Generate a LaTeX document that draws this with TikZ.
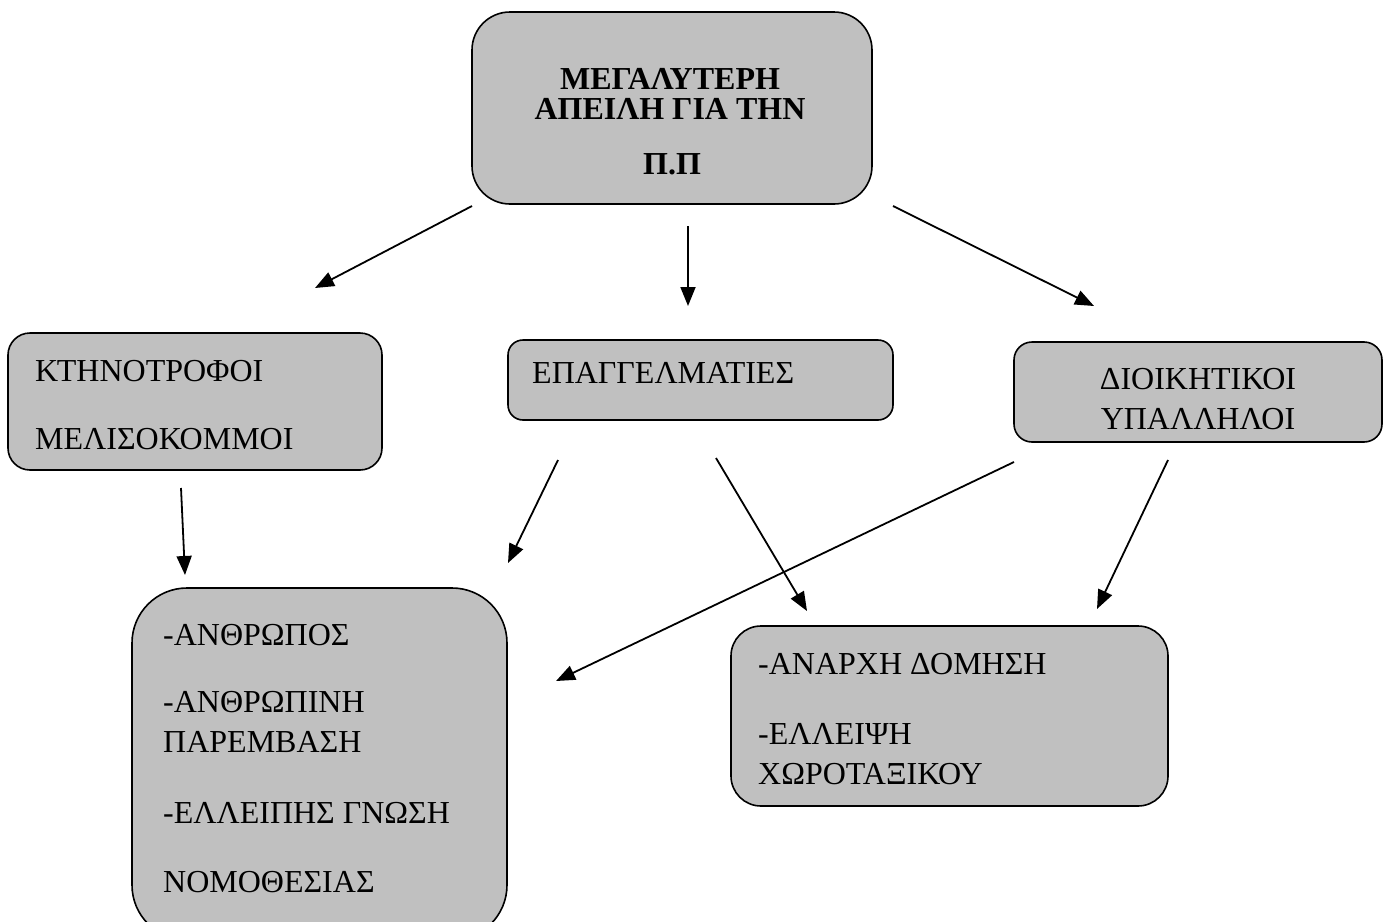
\documentclass[tikz,border=0pt]{standalone}
\usepackage{fontspec}
\setmainfont{Liberation Serif}
\usetikzlibrary{arrows.meta}
\definecolor{boxgray}{RGB}{192,192,192}
\begin{document}
\begin{tikzpicture}[x=1pt,y=-1pt,
  box/.style={draw=black, line width=1.6pt, fill=boxgray, inner sep=0pt},
  lbl/.style={anchor=base west, inner sep=0pt, font=\fontsize{32}{36}\selectfont},
  clbl/.style={anchor=base, inner sep=0pt, font=\fontsize{32}{36}\selectfont},
  hlbl/.style={anchor=base, inner sep=0pt, font=\fontsize{32}{36}\selectfont\bfseries},
  arr/.style={line width=1.8pt, -{Triangle[length=19pt,width=15pt]}}]
\useasboundingbox (0,0) rectangle (1384,921);

% boxes
\node[box, minimum width=400, minimum height=192, rounded corners=38] (top) at (672,108) {};
\node[box, minimum width=374, minimum height=137, rounded corners=22] (kt) at (195,401.5) {};
\node[box, minimum width=385, minimum height=80, rounded corners=15] (ep) at (700.5,380) {};
\node[box, minimum width=368, minimum height=100, rounded corners=18] (di) at (1198,392) {};
\node[box, minimum width=375, minimum height=352, rounded corners=55] (bl) at (319.5,764) {};
\node[box, minimum width=437, minimum height=180, rounded corners=30] (br) at (949.5,716) {};

% labels
\node[hlbl] (t1) at (670,89) {ΜΕΓΑΛΥΤΕΡΗ};
\node[hlbl] (t2) at (670,119) {ΑΠΕΙΛΗ ΓΙΑ ΤΗΝ};
\node[hlbl] (t3) at (672,174) {Π.Π};

\node[lbl] (k1) at (35,381) {ΚΤΗΝΟΤΡΟΦΟΙ};
\node[lbl] (k2) at (35,449) {ΜΕΛΙΣΟΚΟΜΜΟΙ};

\node[lbl] (e1) at (532,383) {ΕΠΑΓΓΕΛΜΑΤΙΕΣ};

\node[clbl] (d1) at (1198,389) {ΔΙΟΙΚΗΤΙΚΟΙ};
\node[clbl] (d2) at (1198,429) {ΥΠΑΛΛΗΛΟΙ};

\node[lbl] (b1) at (163,645) {-ΑΝΘΡΩΠΟΣ};
\node[lbl] (b2) at (163,712) {-ΑΝΘΡΩΠΙΝΗ};
\node[lbl] (b3) at (163,752) {ΠΑΡΕΜΒΑΣΗ};
\node[lbl] (b4) at (163,823) {-ΕΛΛΕΙΠΗΣ ΓΝΩΣΗ};
\node[lbl] (b5) at (163,892) {ΝΟΜΟΘΕΣΙΑΣ};

\node[lbl] (r1) at (758,674) {-ΑΝΑΡΧΗ ΔΟΜΗΣΗ};
\node[lbl] (r2) at (758,744) {-ΕΛΛΕΙΨΗ};
\node[lbl] (r3) at (758,784) {ΧΩΡΟΤΑΞΙΚΟΥ};

% connector end points
\coordinate (a1s) at (472,206);  \coordinate (a1e) at (315,288);
\coordinate (a2s) at (688,226);  \coordinate (a2e) at (688,306);
\coordinate (a3s) at (893,206);  \coordinate (a3e) at (1094,306);
\coordinate (a4s) at (181,488);  \coordinate (a4e) at (185,575);
\coordinate (a5s) at (558,460);  \coordinate (a5e) at (508,563);
\coordinate (a6s) at (716,458);  \coordinate (a6e) at (807,611);
\coordinate (a7s) at (1014,462); \coordinate (a7e) at (556,681);
\coordinate (a8s) at (1168,460); \coordinate (a8e) at (1097,609);

% connectors
\draw[arr] (a1s) -- (a1e);
\draw[arr] (a2s) -- (a2e);
\draw[arr] (a3s) -- (a3e);
\draw[arr] (a4s) -- (a4e);
\draw[arr] (a5s) -- (a5e);
\draw[arr] (a6s) -- (a6e);
\draw[arr] (a7s) -- (a7e);
\draw[arr] (a8s) -- (a8e);
\end{tikzpicture}
\end{document}
